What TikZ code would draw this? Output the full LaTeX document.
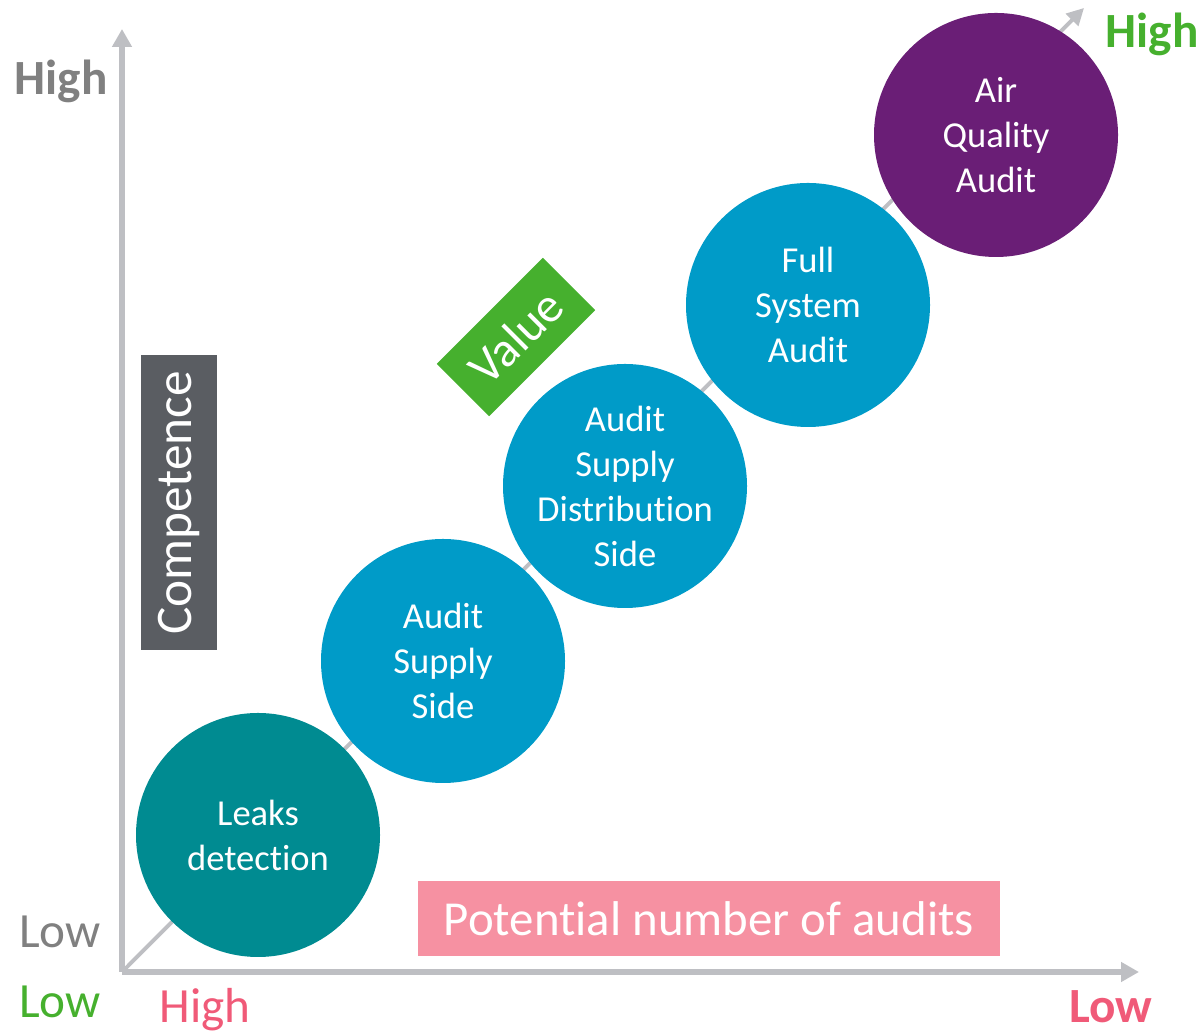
\documentclass[tikz,border=0pt]{standalone}
\usepackage{fontspec}
\setmainfont{Carlito}[RawFeature={-liga;-clig;-calt;-dlig}]
\usetikzlibrary{arrows.meta}

\definecolor{axisgray}{RGB}{190,191,195}
\definecolor{labelgray}{RGB}{128,128,128}
\definecolor{valuegreen}{RGB}{70,176,46}
\definecolor{lowpink}{RGB}{240,90,120}
\definecolor{boxpink}{RGB}{246,145,162}
\definecolor{boxgray}{RGB}{90,93,98}
\definecolor{leakteal}{RGB}{0,139,145}
\definecolor{auditblue}{RGB}{0,155,200}
\definecolor{airpurple}{RGB}{106,30,118}

\begin{document}
\begin{tikzpicture}[
    bubble/.style={circle, minimum size=2.44cm, inner sep=0pt, text=white,
        align=center, font=\fontsize{10.4}{12.8}\selectfont},
    axis/.style={draw=axisgray, line width=1.7pt, -{Triangle[length=0.18cm, width=0.19cm]}},
    tag/.style={anchor=base, font=\fontsize{14}{16}\selectfont},
    banner/.style={inner sep=0pt, text=white}
]
    \useasboundingbox (0,0) rectangle (12.04,10.34);

    % Axis corner and arrow ends
    \coordinate (origin) at (1.22,0.62);
    \coordinate (ytip) at (1.22,10.05);
    \coordinate (xtip) at (11.39,0.62);
    \coordinate (vtip) at (10.84,10.26);

    % Draw the value diagonal and the two axes
    \draw[draw=axisgray, line width=1.1pt, -{Triangle[length=0.17cm, width=0.17cm]}] (origin) -- (vtip);
    \draw[axis] (origin) -- (ytip);
    \draw[axis] (origin) -- (xtip);

    % Audit circles
    \node (leaks) at (2.58,1.99) [bubble, fill=leakteal] {Leaks\\detection};
    \node (supply) at (4.43,3.73) [bubble, fill=auditblue] {Audit\\Supply\\Side};
    \node (distrib) at (6.25,5.48) [bubble, fill=auditblue] {Audit\\Supply\\Distribution\\Side};
    \node (fullsys) at (8.08,7.29) [bubble, fill=auditblue] {Full\\System\\Audit};
    \node (airq) at (9.96,8.99) [bubble, fill=airpurple] {Air\\Quality\\Audit};

    % Axis titles
    \node (value) at (5.16,6.97) [banner, fill=valuegreen, rotate=45, minimum width=1.50cm,
        minimum height=0.74cm, font=\fontsize{14}{16}\selectfont] {Value};
    \node (competence) at (1.79,5.31) [banner, fill=boxgray, rotate=90, minimum width=2.95cm,
        minimum height=0.76cm, font=\fontsize{14.6}{17}\selectfont] {Competence};
    \node (potential) at (7.09,1.15) [banner, fill=boxpink, minimum width=5.82cm,
        minimum height=0.75cm, font=\fontsize{13.9}{16}\selectfont] {Potential number of audits};

    % High and low ends
    \node (yhigh) at (0.61,9.39) [tag, text=labelgray] {\bfseries High};
    \node (ylow) at (0.60,0.86) [tag, text=labelgray] {Low};
    \node (vhigh) at (11.52,9.86) [tag, text=valuegreen] {\bfseries High};
    \node (vlow) at (0.60,0.16) [tag, text=valuegreen] {Low};
    \node (xhigh) at (2.05,0.11) [tag, text=lowpink] {High};
    \node (xlow) at (11.11,0.11) [tag, text=lowpink] {\bfseries Low};
\end{tikzpicture}
\end{document}
